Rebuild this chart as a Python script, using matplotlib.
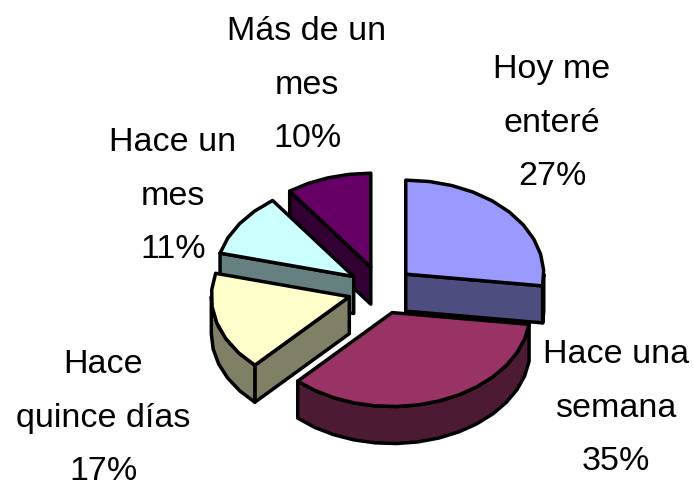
import numpy as np
import matplotlib
matplotlib.use('Agg')
import matplotlib.pyplot as plt
from matplotlib.patches import Polygon

labels = ['Hoy me\nenteré', 'Hace una\nsemana', 'Hace\nquince días', 'Hace un\nmes', 'Más de un\nmes']
values = [27, 35, 17, 11, 10]
top_colors = ['#9999FF', '#993366', '#FFFFCC', '#CCFFFF', '#660066']
side_colors = ['#4D4D80', '#4D1A33', '#808066', '#668080', '#330033']

# label block centres in pixels
label_x = [552, 616, 103, 173, 307]
label_y = [123, 408, 418, 196, 85]

cx, cy = 381, 290
rx, ry = 138, 94
depth = 37
explode_x, explode_y = 33, 24
lw = 2.5


def rim(a, b, c):
    n = max(int(abs(b - a) / 9), 1)
    t = np.radians(np.linspace(a, b, n + 1))
    return np.column_stack([c[0] + rx * np.sin(t), c[1] - ry * np.cos(t)])


def face(ax, pts, color, z):
    ax.add_patch(Polygon(pts, closed=True, facecolor=color, edgecolor='black',
                         linewidth=lw, joinstyle='round', zorder=z))


fig = plt.figure(figsize=(6.93, 4.86), dpi=100)
ax = fig.add_axes([0, 0, 1, 1])
ax.set_xlim(0, 693)
ax.set_ylim(486, 0)
ax.axis('off')

angles = np.cumsum([0] + values) * 3.6
# back slices first, so the nearer ones cover them
order = [4, 3, 2, 0, 1]
for z, i in enumerate(order):
    a, b = angles[i], angles[i + 1]
    mid = np.radians((a + b) / 2)
    c = (cx + explode_x * np.sin(mid), cy - explode_y * np.cos(mid))
    down = np.array([0, depth])
    z0 = z * 10 + 1
    # radial walls
    for ang, sign in [(a, -1), (b, 1)]:
        if sign * np.sin(np.radians(ang)) > 1e-6:
            p = rim(ang, ang, c)[0]
            face(ax, [c, p, p + down, np.array(c) + down], side_colors[i], z0)
    # outer wall, front part only
    lo, hi = max(a, 90), min(b, 270)
    if hi > lo:
        r = rim(lo, hi, c)
        face(ax, np.vstack([r, (r + down)[::-1]]), side_colors[i], z0 + 1)
    face(ax, np.vstack([[c], rim(a, b, c)]), top_colors[i], z0 + 2)

for name, v, x, y in zip(labels, values, label_x, label_y):
    ax.text(x, y, f'{name}\n{v}%', ha='center', va='center', fontsize=24.5,
            family='Liberation Sans', linespacing=1.92, color='black', zorder=100)

fig.savefig('out.png', dpi=100)
